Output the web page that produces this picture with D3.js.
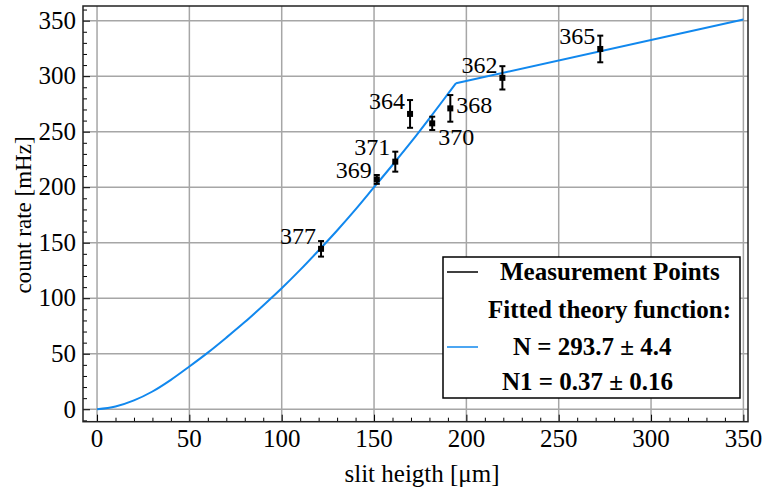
<!DOCTYPE html>
<html>
<head>
<meta charset="utf-8">
<script src="https://cdn.jsdelivr.net/npm/d3@7"></script>
<style>
  body { margin: 0; background: #fff; }
  text { font-family: "Liberation Serif", "Times New Roman", serif; }
</style>
</head>
<body>
<svg id="chart" width="765" height="492"></svg>
<script>
// measurement points (slit height in µm, count rate in mHz)
var pointX = [121.3, 151.5, 161.5, 169.5, 181.5, 191.3, 219.5, 272.5];
var pointY = [144.5, 207, 223, 266, 257.5, 271, 298.5, 324.5];
var pointErr = [7, 4, 9, 12.5, 6, 12, 10.5, 12];
var pointLabels = ["377", "369", "371", "364", "370", "368", "362", "365"];

// fitted theory curve: curved part up to the kink, then straight
var fitX = [0, 10, 20, 30, 40, 50, 60, 70, 80, 90, 100, 110, 120, 130, 140, 150, 160, 170, 180, 190, 194.4];
var fitY = [0, 2.5, 8, 16, 26.5, 38.5, 51, 64.5, 78.5, 93.5, 109, 125.5, 143, 161, 180, 200, 220, 240.5, 262, 284, 293.7];
var tailX = [194.4, 350];
var tailY = [293.7, 351];

var xTicks = [0, 50, 100, 150, 200, 250, 300, 350];
var yTicks = [0, 50, 100, 150, 200, 250, 300, 350];

var legendLines = ["Measurement Points", "Fitted theory function:", "N = 293.7 \u00b1 4.4", "N1 = 0.37 \u00b1 0.16"];

var blue = "#1188ee";
var svg = d3.select("svg#chart");

var plotLeft = 83, plotRight = 748, plotTop = 6, plotBottom = 421.7;

var x = d3.scaleLinear().domain([-7.6, 352.5]).range([plotLeft, plotRight]);
var y = d3.scaleLinear().domain([-11.2, 363.2]).range([plotBottom, plotTop]);

// grid
svg.append("g").selectAll("line.vgrid")
  .data(xTicks)
  .enter().append("line")
  .attr("class", "vgrid")
  .attr("x1", d => x(d)).attr("x2", d => x(d))
  .attr("y1", plotTop).attr("y2", plotBottom)
  .attr("stroke", "#a6a6a6")
  .attr("stroke-width", 1.5);

svg.append("g").selectAll("line.hgrid")
  .data(yTicks)
  .enter().append("line")
  .attr("class", "hgrid")
  .attr("x1", plotLeft).attr("x2", plotRight)
  .attr("y1", d => y(d)).attr("y2", d => y(d))
  .attr("stroke", "#a6a6a6")
  .attr("stroke-width", 1.5);

// axes with inward ticks
var xAxis = d3.axisTop(x).tickValues(d3.range(0, 351, 10)).tickFormat("")
  .tickSizeInner(0).tickSizeOuter(0);
var gx = svg.append("g").attr("transform", "translate(0," + plotBottom + ")").call(xAxis);
gx.select(".domain").remove();
gx.selectAll(".tick line")
  .attr("y2", d => d % 50 === 0 ? -7 : -4)
  .attr("stroke", "#000").attr("stroke-width", 1);

var yAxis = d3.axisRight(y).tickValues(d3.range(-10, 361, 10)).tickFormat("")
  .tickSizeInner(0).tickSizeOuter(0);
var gy = svg.append("g").attr("transform", "translate(" + plotLeft + ",0)").call(yAxis);
gy.select(".domain").remove();
gy.selectAll(".tick line")
  .attr("x2", d => d % 50 === 0 ? 7 : 4)
  .attr("stroke", "#000").attr("stroke-width", 1);

// tick labels
svg.selectAll("text.xlab")
  .data(xTicks)
  .enter().append("text")
  .attr("class", "xlab")
  .attr("x", d => x(d))
  .attr("y", 447)
  .attr("text-anchor", "middle")
  .attr("font-size", 25)
  .text(d => d);

svg.selectAll("text.ylab")
  .data(yTicks)
  .enter().append("text")
  .attr("class", "ylab")
  .attr("x", 76)
  .attr("y", d => y(d))
  .attr("dy", "0.33em")
  .attr("text-anchor", "end")
  .attr("font-size", 25)
  .text(d => d);

// frame
svg.append("rect")
  .attr("x", plotLeft).attr("y", plotTop)
  .attr("width", plotRight - plotLeft).attr("height", plotBottom - plotTop)
  .attr("fill", "none")
  .attr("stroke", "#222")
  .attr("stroke-width", 1.5);

// axis titles
svg.append("text")
  .attr("x", 422).attr("y", 482)
  .attr("text-anchor", "middle")
  .attr("font-size", 25)
  .text("slit heigth [\u03bcm]");

svg.append("text")
  .attr("transform", "translate(31,215) rotate(-90)")
  .attr("text-anchor", "middle")
  .attr("font-size", 23)
  .text("count rate [mHz]");

// fit curve
var curve = d3.line().x(d => x(d[0])).y(d => y(d[1])).curve(d3.curveMonotoneX);
var straight = d3.line().x(d => x(d[0])).y(d => y(d[1]));
svg.append("path")
  .datum(d3.zip(fitX, fitY))
  .attr("d", curve)
  .attr("fill", "none")
  .attr("stroke", blue)
  .attr("stroke-width", 2);
svg.append("path")
  .datum(d3.zip(tailX, tailY))
  .attr("d", straight)
  .attr("fill", "none")
  .attr("stroke", blue)
  .attr("stroke-width", 2);

// measurement points with error bars
var pts = d3.range(pointX.length).map(i => ({
  x: pointX[i], y: pointY[i], e: pointErr[i], label: pointLabels[i]
}));

var g = svg.append("g").selectAll("g.pt")
  .data(pts)
  .enter().append("g")
  .attr("class", "pt");

g.append("line")
  .attr("x1", d => x(d.x)).attr("x2", d => x(d.x))
  .attr("y1", d => y(d.y - d.e)).attr("y2", d => y(d.y + d.e))
  .attr("stroke", "#000").attr("stroke-width", 2);
g.append("line")
  .attr("x1", d => x(d.x) - 3).attr("x2", d => x(d.x) + 3)
  .attr("y1", d => y(d.y + d.e)).attr("y2", d => y(d.y + d.e))
  .attr("stroke", "#000").attr("stroke-width", 2);
g.append("line")
  .attr("x1", d => x(d.x) - 3).attr("x2", d => x(d.x) + 3)
  .attr("y1", d => y(d.y - d.e)).attr("y2", d => y(d.y - d.e))
  .attr("stroke", "#000").attr("stroke-width", 2);
g.append("rect")
  .attr("x", d => x(d.x) - 3).attr("y", d => y(d.y) - 3)
  .attr("width", 6).attr("height", 6)
  .attr("fill", "#000");

// labels: most sit up-left of the point, a few are nudged
var labelPlace = {
  "368": {anchor: "start", dx: 6, dy: 5},
  "370": {anchor: "start", dx: 6, dy: 22},
  "369": {anchor: "end", dx: -5, dy: -1},
  "371": {anchor: "end", dx: -5, dy: -7}
};
g.append("text")
  .attr("x", d => x(d.x) + (labelPlace[d.label] ? labelPlace[d.label].dx : -5))
  .attr("y", d => y(d.y) + (labelPlace[d.label] ? labelPlace[d.label].dy : -5))
  .attr("text-anchor", d => labelPlace[d.label] ? labelPlace[d.label].anchor : "end")
  .attr("font-size", 24)
  .text(d => d.label);

// legend
var lg = svg.append("g");
lg.append("rect")
  .attr("x", 443).attr("y", 257)
  .attr("width", 297).attr("height", 141)
  .attr("fill", "#fff")
  .attr("stroke", "#000")
  .attr("stroke-width", 1.5);

lg.append("line")
  .attr("x1", 447).attr("x2", 478).attr("y1", 272).attr("y2", 272)
  .attr("stroke", "#000").attr("stroke-width", 1.5);
lg.append("line")
  .attr("x1", 447).attr("x2", 478).attr("y1", 347).attr("y2", 347)
  .attr("stroke", blue).attr("stroke-width", 1.5);

var legendX = [500, 488, 513, 502];
var legendY = [280, 318, 355, 390];
lg.selectAll("text")
  .data(legendLines)
  .enter().append("text")
  .attr("x", (d, i) => legendX[i])
  .attr("y", (d, i) => legendY[i])
  .attr("font-size", 25)
  .attr("font-weight", "bold")
  .text(d => d);
</script>
</body>
</html>
